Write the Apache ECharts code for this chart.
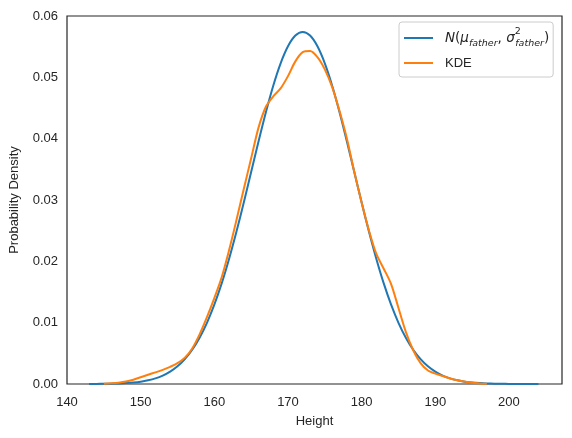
<!DOCTYPE html>
<html>
<head>
<meta charset="utf-8">
<script src="https://cdn.jsdelivr.net/npm/echarts@6/dist/echarts.min.js"></script>
<style>
html,body{margin:0;padding:0;background:#fff;}
#chart{width:572px;height:438px;}
</style>
</head>
<body>
<div id="chart"></div>
<script>
// normal fit N(mu_father, sigma_father^2)
var normX = [143,144,145,146,147,148,149,150,151,152,153,154,155,156,157,158,159,160,161,162,163,164,165,166,167,168,169,170,171,172,
	173,174,175,176,177,178,179,180,181,182,183,184,185,186,187,188,189,190,191,192,193,194,195,196,197,198,199,200,201,202,203,204];
var normY = [0.0000095,0.000017,0.000030,0.000052,0.000089,0.00015,0.00024,0.00038,0.00060,0.00091,0.00137,0.00201,0.00288,0.00406,0.00559,
	0.00755,0.00998,0.01293,0.01640,0.02039,0.02482,0.02959,0.03456,0.03954,0.04431,0.04864,0.05229,0.05507,0.05681,0.05740,
	0.05681,0.05507,0.05229,0.04864,0.04431,0.03954,0.03456,0.02959,0.02482,0.02039,0.01640,0.01293,0.00998,0.00755,0.00559,
	0.00406,0.00288,0.00201,0.00137,0.00091,0.00060,0.00038,0.00024,0.00015,0.000089,0.000052,0.000030,0.000017,0.0000095,
	0.000005,0.000003,0.0000015];
// kernel density estimate
var kdeX = [145,146,147,148,149,150,151,152,153,154,155,156,157,158,159,160,161,162,163,164,165,166,167,168,169,170,
	171,172,173,174,175,176,177,178,179,180,181,182,183,184,185,186,187,188,189,190,191,192,193,194,195,196,197];
var kdeY = [0.00005,0.00012,0.00022,0.0004,0.0007,0.0011,0.0015,0.0019,0.0023,0.0028,0.0034,0.0043,0.0058,0.0081,0.0109,
	0.0140,0.0174,0.0218,0.0267,0.0318,0.0368,0.0418,0.0452,0.0469,0.0482,0.0502,0.0526,0.0541,0.0543,0.0533,0.0513,
	0.0484,0.0445,0.0400,0.0346,0.0296,0.0250,0.0212,0.0188,0.0163,0.0124,0.0085,0.0055,0.0034,0.0022,0.0017,0.0013,
	0.0009,0.0006,0.0004,0.0002,0.0001,0.00003];
var xTicks = [140,150,160,170,180,190,200];
var names = ['normal','KDE'];

function pairs(xs,ys){
	var out=[];
	for(var i=0;i<xs.length;i++)out.push([xs[i],ys[i]]);
	return out;
}

var ink = '#262626';
var font = 'Liberation Sans, Arial, sans-serif';
var myChart = echarts.init(document.getElementById('chart'));
var option = {
	animation:false,
	backgroundColor:'#fff',
	textStyle:{fontFamily:font},
	grid:{left:67,right:10,top:16,bottom:54,show:true,borderColor:ink,borderWidth:1.2,backgroundColor:'transparent'},
	legend:{
		orient:'vertical',
		left:399,
		top:22,
		data:names,
		icon:'rect',
		itemWidth:29,
		itemHeight:2,
		itemGap:3,
		padding:[5,4,3,5],
		borderColor:'#cccccc',
		borderWidth:1,
		borderRadius:3,
		backgroundColor:'#fff',
		textStyle:{
			fontFamily:font,fontSize:13,color:ink,lineHeight:22,padding:[0,0,0,7],
			rich:{
				m:{fontFamily:'DejaVu Sans',fontStyle:'italic',fontSize:13.5,color:ink,lineHeight:22},
				p:{fontFamily:'DejaVu Sans',fontSize:13.5,color:ink,lineHeight:22},
				sub:{fontFamily:'DejaVu Sans',fontStyle:'italic',fontSize:9.5,color:ink,lineHeight:13,verticalAlign:'bottom'},
				sup:{fontFamily:'DejaVu Sans',fontSize:9.5,color:ink,lineHeight:8,verticalAlign:'top',width:0.5},
				t:{fontFamily:font,fontSize:13,color:ink,lineHeight:22}
			}
		},
		formatter:function(name){
			if(name=='normal')return '{m|N}{p|(}{m|μ}{sub|father}{p|, }{m|σ}{sup|2}{sub|father}{p|)}';
			return '{t|'+name+'}';
		}
	},
	xAxis:{
		type:'value',
		min:140,
		max:207.2,
		interval:10,
		name:'Height',
		nameLocation:'middle',
		nameGap:31,
		nameTextStyle:{fontFamily:font,fontSize:13,color:ink},
		axisLine:{show:false},
		axisTick:{show:false},
		splitLine:{show:false},
		axisLabel:{
			margin:12,fontFamily:font,fontSize:13,color:ink,
			showMaxLabel:false,
			formatter:function(v){return xTicks.indexOf(v)>=0?String(v):'';}
		}
	},
	yAxis:{
		type:'value',
		min:0,
		max:0.06,
		interval:0.01,
		name:'Probability Density',
		nameLocation:'middle',
		nameGap:46,
		nameTextStyle:{fontFamily:font,fontSize:13,color:ink},
		axisLine:{show:false},
		axisTick:{show:false},
		splitLine:{show:false},
		axisLabel:{
			margin:9,fontFamily:font,fontSize:13,color:ink,
			formatter:function(v){return v.toFixed(2);}
		}
	},
	series:[
		{
			name:'normal',
			type:'line',
			data:pairs(normX,normY),
			smooth:0.3,
			symbol:'none',
			lineStyle:{color:'#1f77b4',width:2},
			itemStyle:{color:'#1f77b4'},
			z:2
		},
		{
			name:'KDE',
			type:'line',
			data:pairs(kdeX,kdeY),
			smooth:0.3,
			symbol:'none',
			lineStyle:{color:'#ff7f0e',width:2},
			itemStyle:{color:'#ff7f0e'},
			z:3
		}
	]
};
myChart.setOption(option);
</script>
</body>
</html>
